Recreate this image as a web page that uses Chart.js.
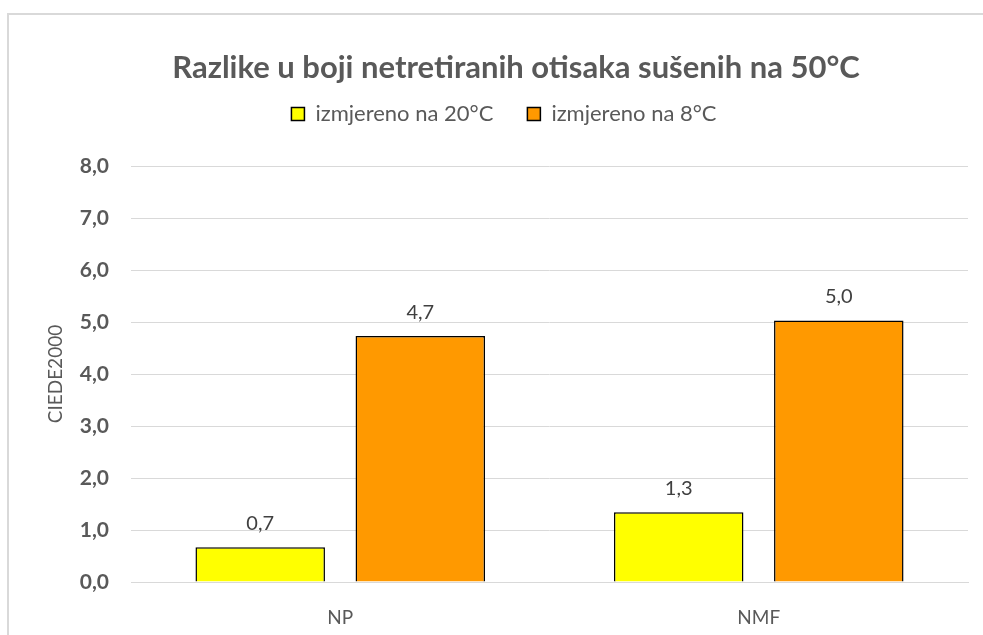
<!DOCTYPE html>
<html>
<head>
<meta charset="utf-8">
<script src="https://cdn.jsdelivr.net/npm/chart.js@4"></script>
<style>
  html, body { margin: 0; padding: 0; background: #fff; }
  #wrap { position: relative; width: 983px; height: 635px; overflow: hidden; }
  #frame { position: absolute; left: 7px; top: 13px; width: 1100px; height: 700px;
           border-left: 2px solid #d9d9d9; border-top: 2px solid #d9d9d9; }
  canvas { position: absolute; left: 0; top: 0; }
</style>
</head>
<body>
<div id="wrap">
  <div id="frame"></div>
  <canvas id="c" width="983" height="635"></canvas>
</div>
<script>
const categories = ["NP", "NMF"];
const seriesNames = ["izmjereno na 20°C", "izmjereno na 8°C"];
const values20 = [0.67, 1.34];
const values8 = [4.73, 5.03];
const yTicks = [0, 1, 2, 3, 4, 5, 6, 7, 8];

const FONT = "Lato, 'Open Sans', sans-serif";
const fmt = v => v.toFixed(1).replace('.', ',');

const dataLabels = {
  id: 'dataLabels',
  afterDatasetsDraw(chart) {
    const ctx = chart.ctx;
    ctx.save();
    ctx.font = "20px " + FONT;
    ctx.fillStyle = "#404040";
    ctx.textAlign = "center";
    ctx.textBaseline = "middle";
    chart.data.datasets.forEach((ds, i) => {
      chart.getDatasetMeta(i).data.forEach((bar, j) => {
        ctx.fillText(fmt(ds.data[j]), bar.x, bar.y - 24);
      });
    });
    ctx.restore();
  }
};

const layoutTweaks = {
  id: 'layoutTweaks',
  beforeInit(chart) {
    const orig = chart.legend.fit;
    chart.legend.fit = function () {
      orig.bind(chart.legend)();
      this.height += 31;
    };
  },
  afterLayout(chart) {
    const t = chart.titleBlock;
    if (t) { t.left += 12; t.right += 12; }
  }
};

new Chart(document.getElementById('c'), {
  type: 'bar',
  data: {
    labels: categories,
    datasets: [
      { label: seriesNames[0], data: values20, backgroundColor: '#FFFF00',
        borderColor: '#000000', borderWidth: 1.5, borderSkipped: 'bottom',
        barPercentage: 0.809, categoryPercentage: 0.765 },
      { label: seriesNames[1], data: values8, backgroundColor: '#FF9900',
        borderColor: '#000000', borderWidth: 1.5, borderSkipped: 'bottom',
        barPercentage: 0.809, categoryPercentage: 0.765 }
    ]
  },
  options: {
    responsive: false,
    animation: false,
    devicePixelRatio: 1,
    layout: { padding: { left: 40, right: 15, top: 0, bottom: 0 } },
    plugins: {
      title: {
        display: true,
        text: "Razlike u boji netretiranih otisaka sušenih na 50°C",
        color: '#595959',
        font: { family: FONT, size: 31, weight: 'bold', lineHeight: 0.1 },
        padding: { top: 66, bottom: 0 }
      },
      legend: {
        position: 'top',
        labels: {
          color: '#595959',
          font: { family: FONT, size: 22 },
          boxWidth: 13, boxHeight: 13,
          padding: 34
        }
      },
      tooltip: { enabled: false }
    },
    scales: {
      x: {
        grid: { display: false, drawTicks: false },
        border: { display: true, color: '#d9d9d9', width: 1 },
        ticks: { color: '#595959', font: { family: FONT, size: 19 }, padding: 24 },
        afterFit(s) { s.height = 53; }
      },
      y: {
        min: 0, max: 8,
        afterBuildTicks(s) { s.ticks = yTicks.map(v => ({ value: v })); },
        grid: { color: '#d9d9d9', lineWidth: 1, drawTicks: false },
        border: { display: false },
        ticks: { color: '#595959', font: { family: FONT, size: 21, weight: 'bold' },
                 padding: 22, callback: v => fmt(v) },
        title: { display: true, text: 'CIEDE2000', color: '#595959',
                 font: { family: FONT, size: 19 }, padding: { top: 4, bottom: 4 } },
        afterFit(s) { s.width = 91; }
      }
    }
  },
  plugins: [dataLabels, layoutTweaks]
});
</script>
</body>
</html>
